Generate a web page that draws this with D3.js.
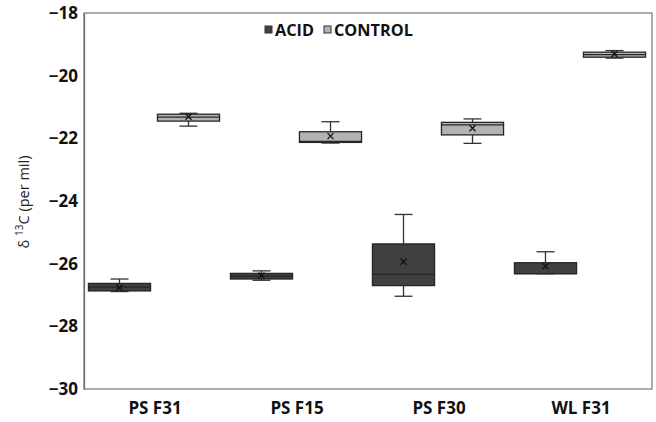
<!DOCTYPE html>
<html><head><meta charset="utf-8">
<script src="https://cdn.jsdelivr.net/npm/d3@7"></script>
<style>body{margin:0;background:#fff}svg{display:block}</style>
</head><body>
<script>
const categories = ["PS F31", "PS F15", "PS F30", "WL F31"];
const seriesNames = ["ACID", "CONTROL"];
const yTicks = [-18, -20, -22, -24, -26, -28, -30];

const acidMin    = [-26.89, -26.53, -27.04, -26.32];
const acidQ1     = [-26.87, -26.49, -26.70, -26.32];
const acidMedian = [-26.75, -26.40, -26.34, -26.32];
const acidQ3     = [-26.63, -26.31, -25.37, -25.97];
const acidMax    = [-26.49, -26.23, -24.43, -25.62];
const acidMean   = [-26.77, -26.38, -25.94, -26.08];

const ctrlMin    = [-21.61, -22.15, -22.16, -19.44];
const ctrlQ1     = [-21.45, -22.13, -21.89, -19.41];
const ctrlMedian = [-21.32, -22.10, -21.57, -19.33];
const ctrlQ3     = [-21.23, -21.79, -21.49, -19.25];
const ctrlMax    = [-21.20, -21.47, -21.38, -19.20];
const ctrlMean   = [-21.31, -21.93, -21.68, -19.31];

const stats = {
  ACID: {min: acidMin, q1: acidQ1, med: acidMedian, q3: acidQ3, max: acidMax, mean: acidMean},
  CONTROL: {min: ctrlMin, q1: ctrlQ1, med: ctrlMedian, q3: ctrlQ3, max: ctrlMax, mean: ctrlMean}
};
const fills = {ACID: "#404040", CONTROL: "#b3b3b3"};

const W = 656, H = 422;
const m = {left: 84, right: 4, top: 13, bottom: 33};
const FONT = "'Open Sans', sans-serif";
const svg = d3.select("body").append("svg").attr("width", W).attr("height", H)
  .style("font-family", FONT);

const x = d3.scaleBand().domain(categories).range([m.left, W - m.right]).padding(0);
const bw = x.bandwidth();
const x1 = d3.scaleBand().domain(seriesNames).range([1, bw - 3]).paddingInner(0.1).paddingOuter(0.05);
const y = d3.scaleLinear().domain([-30, -18]).range([H - m.bottom, m.top]);

// frame
svg.append("rect").attr("x", m.left).attr("y", m.top)
  .attr("width", W - m.right - m.left).attr("height", H - m.bottom - m.top)
  .attr("fill", "none").attr("stroke", "#7f7f7f").attr("stroke-width", 1.3);

// y axis
const yAxis = svg.append("g").attr("transform", `translate(${m.left},0)`)
  .call(d3.axisLeft(y).tickValues(yTicks).tickSize(0).tickPadding(6).tickFormat(d3.format("d")));
yAxis.select(".domain").attr("stroke", "#6f6f6f").attr("stroke-width", 1.3);
yAxis.selectAll("text").attr("font-size", 17).attr("font-weight", "bold")
  .attr("fill", "#111").style("font-family", FONT);

// x axis labels
const xAxis = svg.append("g").attr("transform", `translate(0,${H - m.bottom})`)
  .call(d3.axisBottom(x).tickSize(0).tickPadding(13));
xAxis.select(".domain").remove();
xAxis.selectAll("text").attr("font-size", 17).attr("font-weight", "bold")
  .attr("fill", "#111").style("font-family", FONT);

// y title
const yt = svg.append("text").attr("transform", `translate(29,${(m.top + H - m.bottom) / 2 + 1}) rotate(-90)`)
  .attr("text-anchor", "middle").attr("font-size", 14.5).attr("fill", "#222");
yt.append("tspan").text("δ ");
yt.append("tspan").attr("font-size", 10).attr("dy", -6).text("13");
yt.append("tspan").attr("dy", 6).text("C (per mil)");

// legend
const legendX = [265, 324];
seriesNames.forEach((s, k) => {
  svg.append("rect").attr("x", legendX[k]).attr("y", 26).attr("width", 7).attr("height", 7)
    .attr("fill", fills[s]).attr("stroke", "#333").attr("stroke-width", 1);
  svg.append("text").attr("x", legendX[k] + 10).attr("y", 36)
    .attr("font-size", 16.3).attr("font-weight", "bold").attr("fill", "#111").text(s);
});

// boxes
const capW = 18;
seriesNames.forEach(s => {
  const st = stats[s];
  categories.forEach((c, i) => {
    const cx = x(c) + x1(s) + x1.bandwidth() / 2;
    const left = x(c) + x1(s);
    const g = svg.append("g");
    const stroke = "#262626";
    const ln = (x1_, x2_, y1_, y2_) => g.append("line").attr("x1", x1_).attr("x2", x2_)
      .attr("y1", y1_).attr("y2", y2_).attr("stroke", "#333").attr("stroke-width", 1.3);
    ln(cx, cx, y(st.max[i]), y(st.q3[i]));
    ln(cx, cx, y(st.min[i]), y(st.q1[i]));
    ln(cx - capW / 2, cx + capW / 2, y(st.max[i]), y(st.max[i]));
    ln(cx - capW / 2, cx + capW / 2, y(st.min[i]), y(st.min[i]));
    g.append("rect").attr("x", left).attr("width", x1.bandwidth())
      .attr("y", y(st.q3[i])).attr("height", Math.max(1, y(st.q1[i]) - y(st.q3[i])))
      .attr("fill", fills[s]).attr("stroke", stroke).attr("stroke-width", 1.3);
    g.append("line").attr("x1", left).attr("x2", left + x1.bandwidth())
      .attr("y1", y(st.med[i])).attr("y2", y(st.med[i])).attr("stroke", stroke).attr("stroke-width", 1.3);
    const my = y(st.mean[i]), r = 3;
    g.append("path").attr("d", `M${cx - r},${my - r}L${cx + r},${my + r}M${cx - r},${my + r}L${cx + r},${my - r}`)
      .attr("stroke", "#111").attr("stroke-width", 1.3);
  });
});
</script>
</body></html>
